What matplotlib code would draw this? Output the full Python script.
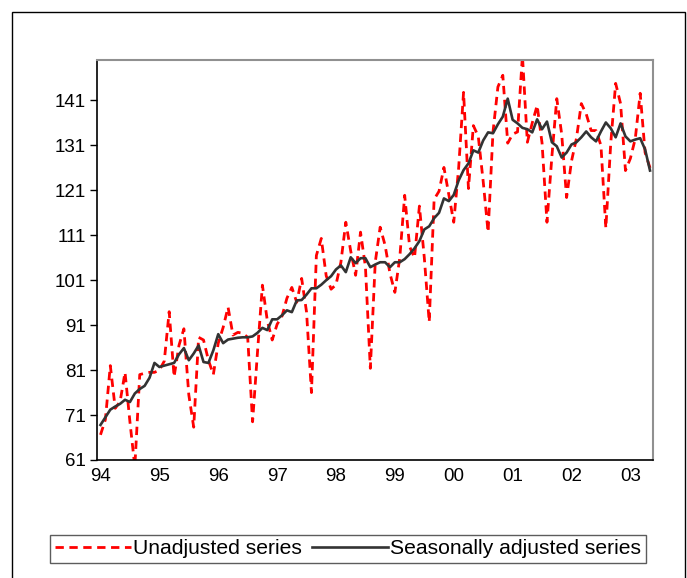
import matplotlib
matplotlib.use("Agg")
import matplotlib.pyplot as plt
from matplotlib.patches import Rectangle

plt.rcParams['font.family'] = ['Liberation Sans', 'DejaVu Sans']

# Monthly data, Jan 1994 - May 2003
unadjusted = [
    66.6, 70.0, 82.0, 72.5, 74.0, 80.5, 69.5, 59.5, 80.0, 80.3, 80.5, 80.5,
    81.0, 83.0, 94.0, 79.5, 86.5, 90.2, 75.5, 68.3, 88.3, 87.7, 83.2, 80.0,
    87.0, 90.5, 95.0, 88.8, 89.4, 89.2, 88.3, 69.5, 85.0, 99.9, 92.0, 87.7,
    91.2, 93.0, 97.0, 99.4, 96.1, 101.4, 93.9, 76.0, 106.5, 110.3, 102.0, 99.0,
    100.0, 105.0, 113.9, 107.5, 102.1, 111.7, 104.0, 81.4, 105.0, 112.8, 108.8, 102.5,
    98.3, 106.0, 119.9, 108.5, 106.0, 117.5, 106.0, 91.7, 119.0, 120.8, 126.1, 120.0,
    113.9, 126.0, 142.8, 121.4, 135.4, 133.0, 123.0, 111.7, 134.0, 144.0, 146.6, 131.5,
    133.5, 134.0, 151.0, 131.7, 136.0, 139.9, 131.5, 113.9, 128.5, 141.4, 133.5, 119.4,
    127.5, 132.5, 140.3, 138.0, 134.3, 134.3, 131.0, 112.6, 131.5, 144.8, 140.3, 125.4,
    128.1, 132.5, 142.6, 129.4, 126.0,
]
seasonally_adjusted = [
    68.8, 70.5, 72.2, 72.9, 73.5, 74.4, 73.9, 75.8, 76.8, 77.5, 79.3, 82.6,
    81.7, 82.0, 82.3, 82.6, 84.5, 85.9, 83.2, 84.7, 86.5, 82.8, 82.6, 85.4,
    89.0, 87.0, 87.8, 88.0, 88.2, 88.3, 88.3, 88.5, 89.3, 90.4, 89.9, 92.3,
    92.3, 93.2, 94.3, 93.9, 96.5, 96.6, 97.8, 99.2, 99.2, 100.0, 101.0, 101.9,
    103.4, 104.3, 102.8, 106.1, 104.8, 105.9, 105.9, 103.9, 104.5, 105.0, 105.0, 103.9,
    105.0, 105.0, 105.7, 106.8, 108.1, 109.7, 112.3, 113.0, 114.8, 116.0, 119.2, 118.6,
    120.0, 123.2, 125.5, 127.0, 129.9, 129.4, 132.1, 133.9, 133.7, 135.7, 137.4, 141.4,
    136.7, 135.9, 134.9, 134.6, 133.9, 136.8, 134.6, 136.3, 131.7, 130.8, 128.3, 129.4,
    131.2, 131.7, 132.8, 134.1, 132.8, 131.9, 134.1, 136.1, 134.8, 132.8, 135.9, 133.0,
    131.9, 132.3, 132.6, 130.1, 125.4,
]
year_labels = ['94', '95', '96', '97', '98', '99', '00', '01', '02', '03']
y_ticks = [61, 71, 81, 91, 101, 111, 121, 131, 141]

W, H = 687, 578
fig = plt.figure(figsize=(W / 100, H / 100), dpi=100)
fig.patches.append(Rectangle((12 / W, -10 / H), (685 - 12) / W, (566 + 10) / H,
                             transform=fig.transFigure, fill=False,
                             edgecolor='black', linewidth=1.0))

L, R, T, B = 97.3, 652.7, 60, 460
ax = fig.add_axes([L / W, 1 - B / H, (R - L) / W, (B - T) / H])

x = list(range(len(unadjusted)))
ax.plot(x, unadjusted, color='#FF0000', linewidth=2.0,
        linestyle=(0, (3.0, 2.0)), label='Unadjusted series', zorder=2)
ax.plot(x, seasonally_adjusted, color='#333333', linewidth=1.9,
        label='Seasonally adjusted series', zorder=3)

ax.set_xlim(-0.65, 112.55)
ax.set_ylim(61, 150)
ax.set_yticks(y_ticks)
ax.set_yticklabels([str(v) for v in y_ticks])
ax.set_xticks([12 * i for i in range(len(year_labels))])
ax.set_xticklabels(year_labels)
ax.tick_params(axis='y', direction='out', length=5, width=1, labelsize=13.5,
               pad=3, colors='black')
ax.tick_params(axis='x', length=0, labelsize=13.5, pad=6)

for side in ['left', 'bottom']:
    ax.spines[side].set_color('black')
    ax.spines[side].set_linewidth(1.2)
for side in ['top', 'right']:
    ax.spines[side].set_color('#909090')
    ax.spines[side].set_linewidth(1.5)

leg = fig.legend(loc='center', bbox_to_anchor=(348 / W, 1 - 549 / H), ncol=2,
                 frameon=True, fancybox=False, edgecolor='#333333',
                 fontsize=15.2, handlelength=3.6, handletextpad=0.1,
                 columnspacing=0.5, borderpad=0.2, borderaxespad=0)
leg.get_frame().set_linewidth(1.0)

fig.savefig('out.png', dpi=100)
